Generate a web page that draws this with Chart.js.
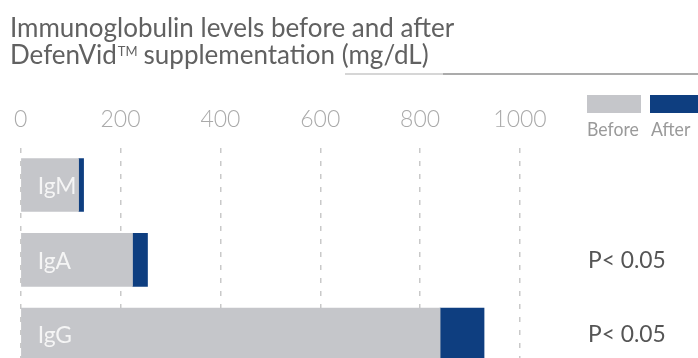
<!doctype html>
<html lang="en">
<head>
    <meta charset="utf-8" />
    <title>Immunoglobulin levels</title>
    <script src="https://cdn.jsdelivr.net/npm/chart.js@4.4.1/dist/chart.umd.min.js"></script>
    <style>
        body { margin: 0; overflow: hidden; background: #fff; }
        #wrap { width: 698px; height: 380px; }
    </style>
</head>
<body>
    <div id="wrap">
        <canvas id="igChart"></canvas>
    </div>
    <script>
        const categories = ['IgM', 'IgA', 'IgG'];
        const beforeValues = [116, 224, 840];
        const afterValues = [126, 254, 928];
        const pLabels = ['', 'P< 0.05', 'P< 0.05'];
        const tickValues = [0, 200, 400, 600, 800, 1000];
        const seriesNames = ['Before', 'After'];

        const FONT = 'Lato, "Open Sans", sans-serif';
        const GRAY = '#c5c6ca';
        const BLUE = '#0e3e80';

        // draws a line of text squeezed horizontally
        function narrowText(ctx, text, x, y, sx) {
            ctx.save();
            ctx.translate(x, y);
            ctx.scale(sx, 1);
            ctx.fillText(text, 0, 0);
            const w = ctx.measureText(text).width * sx;
            ctx.restore();
            return w;
        }

        // title, rule, legend and in-bar text
        const extras = {
            id: 'extras',
            afterDatasetsDraw(chart) {
                const ctx = chart.ctx;
                ctx.save();

                // title
                ctx.fillStyle = '#616161';
                ctx.textBaseline = 'alphabetic';
                ctx.textAlign = 'left';
                ctx.font = '26px ' + FONT;
                ctx.fillText('Immunoglobulin levels before and after', 10, 37);
                let x = 10;
                ctx.fillText('DefenVid', x, 64);
                x += ctx.measureText('DefenVid').width + 1;
                ctx.font = '13px ' + FONT;
                ctx.fillText('TM', x, 56);
                x += ctx.measureText('TM').width + 6;
                ctx.font = '26px ' + FONT;
                ctx.fillText('supplementation (mg/dL)', x, 64);

                // rule under the title
                ctx.lineWidth = 2;
                ctx.strokeStyle = '#d6d6d6';
                ctx.beginPath(); ctx.moveTo(345, 74); ctx.lineTo(443, 74); ctx.stroke();
                ctx.strokeStyle = '#ababab';
                ctx.beginPath(); ctx.moveTo(443, 74); ctx.lineTo(698, 74); ctx.stroke();

                // legend
                const ds = chart.data.datasets;
                ctx.fillStyle = ds[0].backgroundColor;
                ctx.fillRect(587, 95, 54, 18);
                ctx.fillStyle = ds[1].backgroundColor;
                ctx.fillRect(650, 95, 50, 18);
                ctx.font = '19px ' + FONT;
                ctx.fillStyle = '#9a9a9a';
                narrowText(ctx, ds[0].label, 587, 136, 0.93);
                narrowText(ctx, ds[1].label, 651, 136, 0.93);

                // category names inside bars, p-values at right
                const meta = chart.getDatasetMeta(0);
                ctx.textBaseline = 'middle';
                meta.data.forEach((bar, i) => {
                    ctx.font = '24px ' + FONT;
                    ctx.fillStyle = '#f5f5f5';
                    narrowText(ctx, categories[i], chart.chartArea.left + 17, bar.y + 1, 0.95);
                    if (pLabels[i]) {
                        ctx.fillStyle = '#555';
                        narrowText(ctx, pLabels[i], 588, bar.y, 0.95);
                    }
                });
                ctx.restore();
            }
        };

        const ctx = document.getElementById('igChart').getContext('2d');
        const igChart = new Chart(ctx, {
            type: 'bar',
            data: {
                labels: categories,
                datasets: [{
                    label: seriesNames[0],
                    data: beforeValues,
                    backgroundColor: GRAY,
                    order: 0
                }, {
                    label: seriesNames[1],
                    data: categories.map((c, i) => [beforeValues[i], afterValues[i]]),
                    backgroundColor: BLUE,
                    order: 1
                }]
            },
            options: {
                indexAxis: 'y',
                responsive: true,
                maintainAspectRatio: false,
                animation: false,
                layout: { padding: { left: 20, right: 178, top: 92, bottom: 8 } },
                datasets: { bar: { grouped: false, barThickness: 53, borderWidth: 0 } },
                scales: {
                    x: {
                        position: 'top',
                        min: 0,
                        max: 1000,
                        afterBuildTicks: axis => { axis.ticks = tickValues.map(v => ({ value: v })); },
                        ticks: {
                            color: '#aaaaaa',
                            font: { family: FONT, size: 23, weight: 300 },
                            padding: 14,
                            callback: v => String(v)
                        },
                        grid: { color: '#c9c9c9', lineWidth: 1.5, drawTicks: false },
                        border: { display: false, dash: [5, 8] }
                    },
                    y: { display: false }
                },
                plugins: { legend: { display: false }, tooltip: { enabled: false } }
            },
            plugins: [extras]
        });
    </script>
</body>
</html>
